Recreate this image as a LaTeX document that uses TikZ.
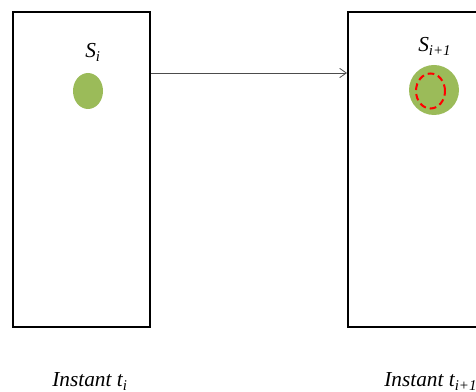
\documentclass[tikz,border=0pt]{standalone}
\usepackage{fontspec}
\setmainfont{Liberation Serif}
\usetikzlibrary{shapes.geometric, arrows.meta}
\definecolor{blobgreen}{HTML}{9BBB59}
\definecolor{shiftred}{HTML}{FF0000}
\tikzset{
  frame/.style={draw, line width=1.5pt, minimum width=102.75pt, minimum height=236.25pt, inner sep=0pt},
  blob/.style={ellipse, fill=blobgreen, inner sep=0pt, minimum width=22.5pt, minimum height=27pt},
  grownblob/.style={circle, fill=blobgreen, inner sep=0pt, minimum size=37.5pt},
  oldblob/.style={ellipse, draw=shiftred, dashed, line width=1.5pt, dash pattern=on 5pt off 3pt,
                  inner sep=0pt, minimum width=21.75pt, minimum height=26.25pt},
  lbl/.style={font=\fontsize{16}{19}\selectfont\itshape, inner sep=0pt, anchor=base west},
}

\begin{document}
\begin{tikzpicture}[x=0.75pt, y=-0.75pt]
    \useasboundingbox (0,0) rectangle (476,392);
    % frames at t_i and t_{i+1}
    \node[frame] (boxL) at (81.5,169.5) {};
    \node[frame] (boxR) at (416.5,169.5) {};
    \node[blob] (blobL) at (88,91) {};
    \node[grownblob] (blobR) at (434,90) {};
    \node[oldblob] (ghost) at (430.5,91) {};
    \node[lbl] (sL) at (85,58) {S\textsubscript{i}};
    \node[lbl] (sR) at (418,52) {S\textsubscript{i+1}};
    \node[lbl] (tL) at (52,387) {Instant t\textsubscript{i}};
    \node[lbl] (tR) at (384,387) {Instant t\textsubscript{i+1}};
    \coordinate (lvl) at (0,73);
    \draw[-{Straight Barb[length=5pt, width=7pt]}, gray!60!black, line width=0.6pt]
      (boxL.east |- lvl) -- (boxR.west |- lvl);
  \end{tikzpicture}
\end{document}
